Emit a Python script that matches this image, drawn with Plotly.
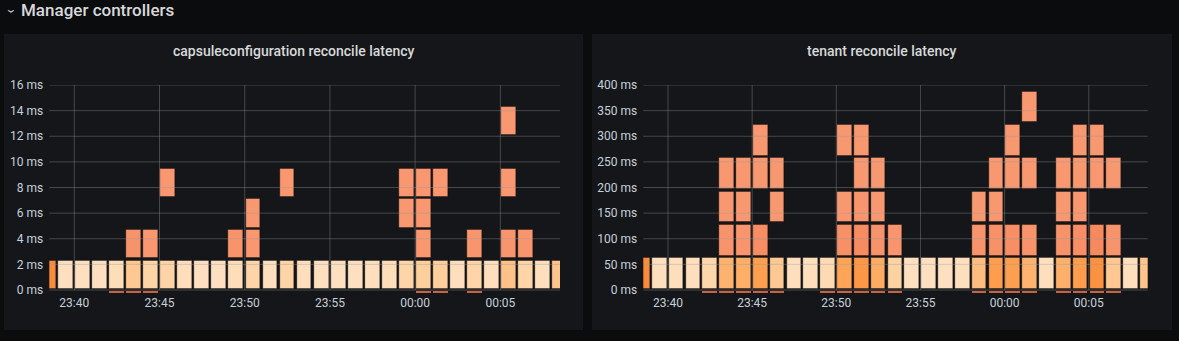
import plotly.graph_objects as go
from datetime import datetime, timedelta

# ---------------- data ----------------
minutes = ["23:38", "23:39", "23:40", "23:41", "23:42", "23:43", "23:44", "23:45",
           "23:46", "23:47", "23:48", "23:49", "23:50", "23:51", "23:52", "23:53",
           "23:54", "23:55", "23:56", "23:57", "23:58", "23:59", "00:00", "00:01",
           "00:02", "00:03", "00:04", "00:05", "00:06", "00:07", "00:08"]

# colour intensity of the lowest bucket per minute (0 = pale, 1 = deep orange)
cap_base_shade = [1.0, 0.04, 0.04, 0.04, 0.08, 0.35, 0.22, 0.22, 0.06, 0.04, 0.04,
                  0.08, 0.20, 0.05, 0.22, 0.06, 0.04, 0.04, 0.04, 0.05, 0.08, 0.20,
                  0.28, 0.28, 0.06, 0.20, 0.06, 0.40, 0.20, 0.05, 0.38]
ten_base_shade = [1.0, 0.05, 0.05, 0.05, 0.18, 0.55, 0.60, 0.75, 0.35, 0.05, 0.05,
                  0.12, 0.70, 0.85, 0.62, 0.25, 0.04, 0.04, 0.04, 0.05, 0.45, 0.78,
                  0.75, 0.55, 0.05, 0.58, 0.78, 0.92, 0.35, 0.05, 0.38]

cap_bucket_ms = 2.4
ten_bucket_ms = 65

# upper buckets (bucket index k covers [k*size, (k+1)*size])
cap_up_time = ["23:43", "23:44", "23:45", "23:49", "23:50", "23:50", "23:52", "23:59",
               "23:59", "00:00", "00:00", "00:00", "00:01", "00:03", "00:05", "00:05",
               "00:05", "00:06"]
cap_up_bucket = [1, 1, 3, 1, 1, 2, 3, 2, 3, 1, 2, 3, 3, 1, 1, 3, 5, 1]
cap_up_shade = [0.55, 0.40, 0.40, 0.50, 0.40, 0.35, 0.40, 0.40, 0.40, 0.40, 0.40,
                0.40, 0.40, 0.45, 0.45, 0.40, 0.40, 0.45]

ten_up_time = ["23:43", "23:43", "23:43", "23:44", "23:44", "23:44", "23:45", "23:45",
               "23:45", "23:46", "23:46", "23:50", "23:50", "23:50", "23:51", "23:51",
               "23:51", "23:51", "23:52", "23:52", "23:52", "23:53", "23:58", "23:58",
               "23:59", "23:59", "23:59", "00:00", "00:00", "00:00", "00:01", "00:01",
               "00:01", "00:03", "00:03", "00:03", "00:04", "00:04", "00:04", "00:04",
               "00:05", "00:05", "00:05", "00:06", "00:06"]
ten_up_bucket = [1, 2, 3, 1, 2, 3, 1, 3, 4, 2, 3, 1, 2, 4, 1, 2,
                 3, 4, 1, 2, 3, 1, 1, 2, 1, 2, 3, 1, 3, 4, 1, 3,
                 5, 1, 2, 3, 1, 2, 3, 4, 1, 3, 4, 1, 3]
ten_up_shade = [0.50, 0.35, 0.35, 0.45, 0.35, 0.35, 0.75, 0.35, 0.35, 0.35, 0.35,
                0.65, 0.35, 0.35, 0.80, 0.45, 0.35, 0.35, 0.55, 0.35, 0.35, 0.45,
                0.50, 0.35, 0.60, 0.35, 0.35, 0.70, 0.35, 0.35, 0.50, 0.35, 0.35,
                0.55, 0.35, 0.35, 0.70, 0.40, 0.35, 0.35, 0.90, 0.40, 0.35, 0.50,
                0.35]

# thin slivers shown just below the zero line
cap_under_time = ["23:42", "23:43", "23:44", "00:00", "00:01", "00:03"]
ten_under_time = ["23:42", "23:43", "23:44", "23:45", "23:46", "23:49", "23:50",
                  "23:51", "23:52", "23:53", "23:58", "23:59", "00:00", "00:01",
                  "00:03", "00:04", "00:05", "00:06"]

x_ticks = ["23:40", "23:45", "23:50", "23:55", "00:00", "00:05"]

# ---------------- style ----------------
W, H = 1179, 341
CANVAS = "#0b0c0e"
PANEL = "#141619"
TXT = "#c7d0d9"
TITLE = "#d8d9da"
FONT = "Roboto"
GRID = "rgba(150,152,156,0.38)"
BASE_SCALE = [[0, "#fee2c4"], [0.25, "#fdd2a2"], [0.5, "#fdb877"],
              [0.75, "#fd9f50"], [1, "#f98c3a"]]
UP_SCALE = [[0, "#f9a27e"], [1, "#f6865a"]]
UNDER_COLOR = "#c9623f"
CELL_LINE = "rgba(0,0,0,0.32)"
CELL_W_MS = 0.87 * 60000


def t(label, sec=30):
    h, m = map(int, label.split(":"))
    day = 1 if h == 23 else 2
    return datetime(2024, 1, day, h, m) + timedelta(seconds=sec)


X_RANGE = [datetime(2024, 1, 1, 23, 38, 32), datetime(2024, 1, 2, 0, 8, 30)]

panels = [
    dict(name="capsuleconfiguration reconcile latency", card=(4, 583),
         plot=(49.3, 560.0), ymax=16, dtick=2, bucket=cap_bucket_ms,
         base_shade=cap_base_shade, up_t=cap_up_time, up_b=cap_up_bucket,
         up_s=cap_up_shade, under=cap_under_time, xa="x", ya="y"),
    dict(name="tenant reconcile latency", card=(592, 1172),
         plot=(643.3, 1147.7), ymax=400, dtick=50, bucket=ten_bucket_ms,
         base_shade=ten_base_shade, up_t=ten_up_time, up_b=ten_up_bucket,
         up_s=ten_up_shade, under=ten_under_time, xa="x2", ya="y2"),
]

PLOT_TOP, ZERO_Y, PLOT_BOTTOM = 85.0, 290.0, 294.0
CARD_TOP, CARD_BOTTOM = 34, 330

fig = go.Figure()
shapes = []
annotations = []
layout_axes = {}

for i, p in enumerate(panels):
    ppu = (ZERO_Y - PLOT_TOP) / p["ymax"]          # pixels per unit
    ymin = -(PLOT_BOTTOM - ZERO_Y) / ppu
    gb, gt = 1.0 / ppu, 1.6 / ppu                  # insets in data units
    size = p["bucket"]

    # lowest bucket row
    fig.add_trace(go.Bar(
        x=[t(m) for m in minutes],
        y=[size - gb - gt] * len(minutes),
        base=[gb] * len(minutes),
        width=CELL_W_MS,
        marker=dict(color=p["base_shade"], colorscale=BASE_SCALE, cmin=0, cmax=1,
                    line=dict(color=CELL_LINE, width=1)),
        xaxis=p["xa"], yaxis=p["ya"], hoverinfo="skip", showlegend=False))
    # upper buckets
    fig.add_trace(go.Bar(
        x=[t(m) for m in p["up_t"]],
        y=[size - gb - gt] * len(p["up_t"]),
        base=[b * size + gb for b in p["up_b"]],
        width=CELL_W_MS,
        marker=dict(color=p["up_s"], colorscale=UP_SCALE, cmin=0, cmax=1,
                    line=dict(color=CELL_LINE, width=1)),
        xaxis=p["xa"], yaxis=p["ya"], hoverinfo="skip", showlegend=False))
    # slivers under the zero line
    fig.add_trace(go.Bar(
        x=[t(m) for m in p["under"]],
        y=[-1.8 / ppu] * len(p["under"]),
        base=[-1.0 / ppu] * len(p["under"]),
        width=CELL_W_MS,
        marker=dict(color=UNDER_COLOR, line=dict(width=0)),
        xaxis=p["xa"], yaxis=p["ya"], hoverinfo="skip", showlegend=False))

    suffix = "" if i == 0 else "2"
    layout_axes["xaxis" + suffix] = dict(
        domain=[p["plot"][0] / W, p["plot"][1] / W], range=X_RANGE, type="date",
        anchor="y" + suffix, showgrid=False, zeroline=False, showline=False,
        tickvals=[t(v, 0) for v in x_ticks], ticktext=x_ticks, automargin=False,
        tickfont=dict(family=FONT, size=12, color=TXT), ticks="",
        fixedrange=True)
    layout_axes["yaxis" + suffix] = dict(
        domain=[1 - PLOT_BOTTOM / H, 1 - PLOT_TOP / H], range=[ymin, p["ymax"]],
        anchor="x" + suffix, showgrid=False, zeroline=False, showline=False,
        tick0=0, dtick=p["dtick"], ticksuffix=" ms", automargin=False,
        tickfont=dict(family=FONT, size=12, color=TXT), ticks="",
        ticklabelstandoff=5, fixedrange=True)

    # panel card
    shapes.append(dict(type="rect", xref="paper", yref="paper",
                       x0=p["card"][0] / W, x1=p["card"][1] / W,
                       y0=1 - CARD_BOTTOM / H, y1=1 - CARD_TOP / H,
                       fillcolor=PANEL, line=dict(width=0), layer="below"))
    # grid lines drawn over the cells
    v = 0
    while v <= p["ymax"] + 1e-9:
        shapes.append(dict(type="line", xref=p["xa"] + " domain", yref=p["ya"],
                           x0=0, x1=1, y0=v, y1=v, line=dict(color=GRID, width=1),
                           layer="above"))
        v += p["dtick"]
    for tv in x_ticks:
        shapes.append(dict(type="line", xref=p["xa"], yref=p["ya"],
                           x0=t(tv, 0), x1=t(tv, 0), y0=0, y1=p["ymax"],
                           line=dict(color=GRID, width=1), layer="above"))
    # panel title
    annotations.append(dict(text=p["name"], xref="paper", yref="paper",
                            x=(p["card"][0] + p["card"][1]) / 2 / W, y=1 - 51 / H,
                            xanchor="center", yanchor="middle", showarrow=False,
                            font=dict(family=FONT, size=14, color=TITLE, weight=500)))

# row header
annotations.append(dict(text="›", xref="paper", yref="paper", x=12 / W, y=1 - 11 / H,
                        xanchor="center", yanchor="middle", showarrow=False,
                        textangle=90, font=dict(family=FONT, size=15, color=TITLE)))
annotations.append(dict(text="Manager controllers", xref="paper", yref="paper",
                        x=19 / W, y=1 - 10.5 / H, xanchor="left", yanchor="middle",
                        showarrow=False,
                        font=dict(family=FONT, size=17, color=TITLE, weight=500)))

fig.update_layout(
    width=W, height=H, margin=dict(l=0, r=0, t=0, b=0, autoexpand=False),
    paper_bgcolor=CANVAS, plot_bgcolor="rgba(0,0,0,0)",
    barmode="overlay", bargap=0, showlegend=False,
    shapes=shapes, annotations=annotations, **layout_axes)

fig.write_html("out.html", config={"displayModeBar": False})
